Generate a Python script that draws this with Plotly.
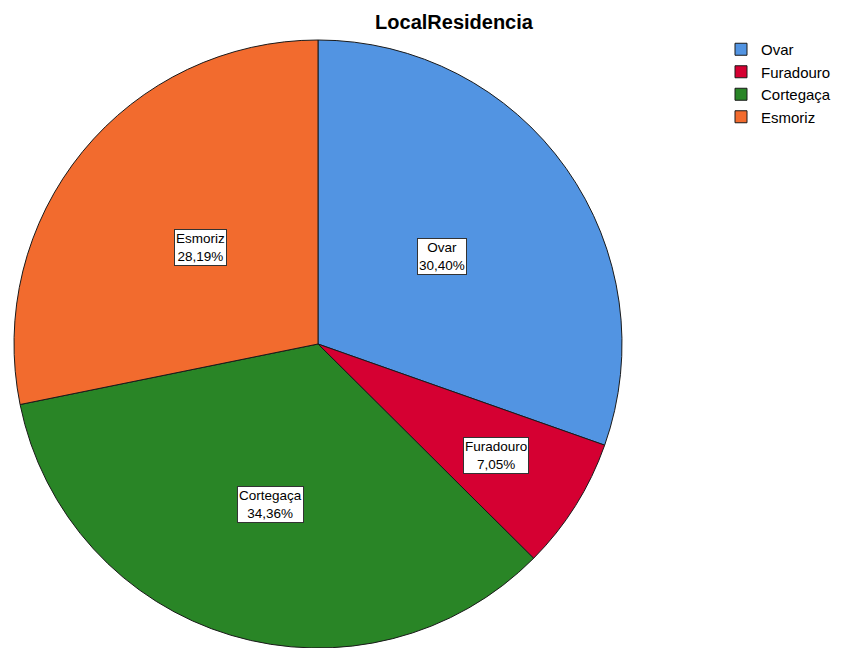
import math
import plotly.graph_objects as go

categories = ["Ovar", "Furadouro", "Cortegaça", "Esmoriz"]
percentages = [30.40, 7.05, 34.36, 28.19]
colors = ["#5294E2", "#D50032", "#298526", "#F26B2E"]
label_radius = [0.5, 0.69, 0.55, 0.5]  # label placement as fraction of radius

OFF = 8  # page body margin of the browser
W, H = 841 - OFF, 648 - OFF
L, R, T, B = 0, 0, 40 - OFF, 0
pw, ph = W - L - R, H - T - B
pie_cx = 318 - OFF  # figure-pixel centre of the pie
rad = ph / 2
dom = [(pie_cx - rad - L) / pw, (pie_cx + rad - L) / pw]
cx, cy = pie_cx, T + ph / 2

fig = go.Figure(go.Pie(
    labels=categories, values=percentages, sort=False, direction="clockwise",
    rotation=0, marker=dict(colors=colors, line=dict(color="#1a1a1a", width=1)),
    textinfo="none", hoverinfo="label+percent",
    domain=dict(x=dom, y=[0, 1]),
))

total = sum(percentages)
cum = 0
anns = []
for cat, v, fr in zip(categories, percentages, label_radius):
    mid = (cum + v / 2) / total * 2 * math.pi
    cum += v
    px = cx + fr * rad * math.sin(mid)
    py = cy - fr * rad * math.cos(mid)
    txt = f"{cat}<br>{v:.2f}%".replace(".", ",")
    anns.append(dict(
        x=(px - L) / pw, y=1 - (py - T) / ph, xref="paper", yref="paper",
        xanchor="center", yanchor="middle",
        text=txt, showarrow=False, bgcolor="white", bordercolor="#333333",
        borderwidth=1, borderpad=1, font=dict(family="Liberation Sans, Arial", size=13.5, color="black"),
        align="center",
    ))

fig.update_layout(
    width=W, height=H, paper_bgcolor="white", plot_bgcolor="white",
    margin=dict(l=L, r=R, t=T, b=B),
    title=dict(text="<b>LocalResidencia</b>", x=(454 - OFF) / W, xanchor="center",
               y=1 - (22 - OFF) / H, yanchor="middle",
               font=dict(family="Liberation Sans, Arial", size=20, color="black")),
    legend=dict(x=(721 - OFF - L) / pw, xanchor="left", y=1 + (14 + OFF - 15) / ph, yanchor="top",
                font=dict(family="Liberation Sans, Arial", size=15, color="black"),
                itemwidth=30, tracegroupgap=0, bgcolor="rgba(0,0,0,0)"),
    annotations=anns,
)

fig.write_html("out.html")
